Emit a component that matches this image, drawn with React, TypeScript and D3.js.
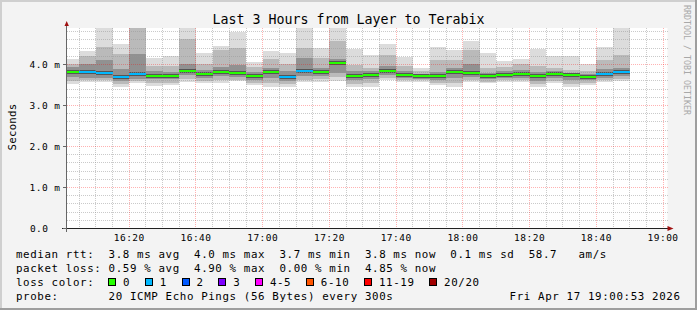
import React from 'react';
import * as d3 from 'd3';

const W = 697;
const H = 310;
const TITLE = 'Last 3 Hours from Layer to Terabix';
const WATERMARK = 'RRDTOOL / TOBI OETIKER';
const Y_LABEL = 'Seconds';

// time window (UTC used as a plain clock)
const T_START = Date.UTC(2026, 3, 17, 16, 1, 20);
const T_END = Date.UTC(2026, 3, 17, 19, 1, 20);
const FIRST_BAR = Date.UTC(2026, 3, 17, 16, 0, 0);
const STEP_MIN = 5;

// per 5-minute bar values, in ms
const median = [3.82, 3.82, 3.80, 3.70, 3.77, 3.72, 3.72, 3.85, 3.77, 3.82, 3.80, 3.72, 3.82, 3.70, 3.85, 3.82, 4.04,
  3.71, 3.74, 3.84, 3.75, 3.71, 3.71, 3.81, 3.79, 3.71, 3.74, 3.77, 3.71, 3.77, 3.74, 3.69, 3.77, 3.82];
const lossIdx = [0, 1, 1, 1, 1, 0, 0, 0, 0, 0, 0, 0, 0, 1, 1, 0, 0,
  0, 0, 0, 0, 0, 0, 0, 0, 0, 0, 0, 0, 0, 0, 0, 1, 1];
const hi = [4.13, 4.33, 5.0, 4.49, 5.0, 4.17, 4.21, 5.0, 4.27, 4.45, 4.80, 4.07, 4.33, 4.29, 5.0, 4.41, 5.0,
  4.38, 4.22, 4.49, 4.19, 3.92, 4.43, 4.35, 4.58, 4.28, 4.08, 4.13, 4.37, 4.20, 4.20, 4.01, 4.43, 5.0];
const hiMid = [4.01, 4.21, 4.43, 4.26, 5.0, 3.97, 3.96, 4.62, 4.00, 4.35, 4.40, 3.95, 4.13, 4.01, 4.41, 4.17, 4.57,
  3.98, 3.92, 4.23, 3.97, 3.84, 4.10, 4.11, 4.35, 3.91, 3.94, 4.02, 3.96, 3.92, 3.87, 3.84, 4.11, 4.23];
const coreHi = [3.93, 4.01, 4.11, 3.90, 4.26, 3.85, 3.82, 4.01, 3.86, 3.95, 3.98, 3.82, 3.92, 3.84, 4.17, 3.92, 4.13,
  3.84, 3.83, 3.97, 3.85, 3.78, 3.82, 3.92, 4.02, 3.80, 3.83, 3.87, 3.81, 3.84, 3.80, 3.77, 3.90, 3.92];
const coreLo = [3.69, 3.68, 3.68, 3.60, 3.65, 3.64, 3.64, 3.74, 3.68, 3.72, 3.70, 3.62, 3.66, 3.60, 3.72, 3.72, 3.80,
  3.62, 3.64, 3.74, 3.68, 3.65, 3.62, 3.66, 3.70, 3.64, 3.66, 3.66, 3.60, 3.67, 3.62, 3.62, 3.68, 3.72];
const loMid = [3.60, 3.62, 3.62, 3.52, 3.60, 3.56, 3.56, 3.64, 3.60, 3.62, 3.63, 3.56, 3.55, 3.52, 3.63, 3.64, 3.70,
  3.52, 3.54, 3.67, 3.62, 3.61, 3.55, 3.54, 3.63, 3.58, 3.61, 3.61, 3.52, 3.60, 3.52, 3.55, 3.62, 3.65];
const lo = [3.52, 3.57, 3.58, 3.46, 3.56, 3.48, 3.50, 3.57, 3.54, 3.56, 3.60, 3.51, 3.44, 3.44, 3.58, 3.58, 3.59,
  3.45, 3.46, 3.62, 3.58, 3.58, 3.50, 3.45, 3.58, 3.54, 3.58, 3.58, 3.44, 3.54, 3.45, 3.50, 3.58, 3.59];

const lossLabels = ['0', '1', '2', '3', '4-5', '6-10', '11-19', '20/20'];
const lossColors = ['#26ff00', '#00b8ff', '#0059ff', '#7e00ff', '#ff00ff', '#ff5500', '#ff0000', '#a10000'];

const rttLine = 'median rtt:  3.8 ms avg  4.0 ms max  3.7 ms min  3.8 ms now  0.1 ms sd  58.7   am/s';
const lossLine = 'packet loss: 0.59 % avg  4.90 % max  0.00 % min  4.85 % now';
const colorLine = 'loss color:';
const probeLine = 'probe:       20 ICMP Echo Pings (56 Bytes) every 300s';
const dateLine = 'Fri Apr 17 19:00:53 2026';

const Y_MAX = 4.89;

const PL = 67, PR = 667.5, PT = 28, PB = 228.5;
const MONO = '"DejaVu Sans Mono", "Liberation Mono", monospace';
const CHAR = 7.12;

export default function App() {
  const x = d3.scaleUtc().domain([T_START, T_END]).range([PL, PR]);
  const y = d3.scaleLinear().domain([0, Y_MAX]).range([PB, PT]);

  const majorX = d3.utcMinute.every(20)!.range(new Date(T_START), new Date(T_END));
  const minorX = d3.utcMinute.every(5)!.range(new Date(T_START), new Date(T_END))
    .filter(d => d.getUTCMinutes() % 20 !== 0);
  const yMinor = y.ticks(25).filter(v => v > 0 && Math.abs(v - Math.round(v)) > 1e-6);
  const yMajor = y.ticks(5).filter(v => v > 0);
  const fmtT = d3.utcFormat('%H:%M');
  const snap = (v: number) => Math.floor(v) + 0.5;

  const bars = median.map((m, i) => {
    const t0 = FIRST_BAR + i * STEP_MIN * 60000;
    const t1 = t0 + STEP_MIN * 60000;
    return { i, x0: Math.round(x(t0)), x1: Math.round(x(t1)), m };
  });

  const band = (b: { x0: number; x1: number }, v0: number, v1: number, fill: string, key: string) => {
    const ya = Math.round(y(v1));
    const yb = Math.round(y(v0));
    return <rect key={key} x={b.x0} y={ya} width={b.x1 - b.x0} height={Math.max(0, yb - ya)} fill={fill} />;
  };

  // legend swatches
  const swatches: { s: number; label: string; color: string }[] = [];
  let s = 108.3;
  lossLabels.forEach((lab, i) => {
    swatches.push({ s, label: lab, color: lossColors[i] });
    s += 14.7 + lab.length * CHAR + 14.9;
  });

  const legendStyle: React.CSSProperties = { whiteSpace: 'pre' };
  const legendFont = { fontFamily: MONO, fontSize: 10.8, letterSpacing: 0.62 };
  const axisFont = { fontFamily: MONO, fontSize: 9.5, letterSpacing: 0.48 };

  return (
    <svg width={W} height={H} viewBox={`0 0 ${W} ${H}`} style={{ position: 'absolute', left: 0, top: 0 }}>
      <defs>
        <clipPath id="plot">
          <rect x={PL} y={PT} width={PR - PL} height={PB - PT} />
        </clipPath>
      </defs>
      <rect x={0} y={0} width={W} height={H} fill="#f3f3f3" />
      <rect x={0} y={0} width={W} height={2} fill="#cfcfcf" />
      <rect x={0} y={0} width={2} height={H} fill="#cfcfcf" />
      <rect x={0} y={H - 2} width={W} height={2} fill="#9e9e9e" />
      <rect x={W - 2} y={0} width={2} height={H} fill="#9e9e9e" />

      <rect x={PL} y={PT} width={PR - PL} height={PB - PT} fill="#ffffff" />

      <g clipPath="url(#plot)" shapeRendering="crispEdges">
        {bars.map(b => (
          <g key={b.i}>
            {band(b, lo[b.i], hi[b.i], '#dcdcdc', 'a')}
            {band(b, loMid[b.i], hiMid[b.i], '#bababa', 'b')}
            {band(b, coreLo[b.i], coreHi[b.i], '#919191', 'c')}
            <rect x={b.x0} y={Math.round(y(b.m)) - 2} width={b.x1 - b.x0} height={4} fill="#555555" />
          </g>
        ))}
      </g>

      <g shapeRendering="crispEdges">
        {yMinor.map(v => (
          <line key={'ym' + v} x1={PL} x2={PR} y1={snap(y(v))} y2={snap(y(v))}
            stroke="rgba(150,150,150,0.5)" strokeDasharray="1,1" />
        ))}
        {minorX.map(d => (
          <line key={'xm' + +d} x1={snap(x(d))} x2={snap(x(d))} y1={PT} y2={PB}
            stroke="rgba(150,150,150,0.5)" strokeDasharray="1,1" />
        ))}
        {yMajor.map(v => (
          <line key={'yM' + v} x1={PL} x2={PR} y1={snap(y(v))} y2={snap(y(v))}
            stroke="rgba(255,0,0,0.3)" strokeDasharray="1,1" />
        ))}
        {majorX.map(d => (
          <line key={'xM' + +d} x1={snap(x(d))} x2={snap(x(d))} y1={PT} y2={PB}
            stroke="rgba(255,0,0,0.3)" strokeDasharray="1,1" />
        ))}
      </g>

      <g clipPath="url(#plot)" shapeRendering="crispEdges">
        {bars.map(b => (
          <rect key={'m' + b.i} x={b.x0} y={Math.round(y(b.m)) - 1} width={b.x1 - b.x0} height={2}
            fill={lossColors[lossIdx[b.i]]} />
        ))}
      </g>

      {/* axes */}
      <g shapeRendering="crispEdges">
        <line x1={PL - 5} x2={PR + 2} y1={PB} y2={PB} stroke="#222" />
        <line x1={66.5} x2={66.5} y1={PB + 3} y2={PT - 3} stroke="#666" />
        {yMajor.concat([0]).map(v => (
          <line key={'yt' + v} x1={63} x2={66} y1={snap(y(v))} y2={snap(y(v))} stroke="#666" />
        ))}
      </g>
      <path d={`M64.5,${PT - 2} L66.7,${PT - 7} L68.9,${PT - 2} Z`} fill="#a01010" />
      <path d={`M${PR},${PB - 2.5} L${PR + 6},${PB} L${PR},${PB + 2.5} Z`} fill="#a01010" />

      {/* tick labels */}
      {majorX.map(d => (
        <text key={'tl' + +d} x={x(d)} y={241} textAnchor="middle" {...axisFont} fill="#000">{fmtT(d)}</text>
      ))}
      {[0].concat(yMajor).map(v => (
        <text key={'yl' + v} x={v === 0 ? 48.5 : 60.5} y={y(v) + 3.5} textAnchor="end" {...axisFont} fill="#000">
          {v === 0 ? d3.format('.1f')(v) : d3.format('.1f')(v) + ' m'}
        </text>
      ))}

      <text x={348.5} y={24} textAnchor="middle" fontFamily={MONO} fontSize={13.3} fill="#000">{TITLE}</text>
      <text transform={`translate(15.5,127) rotate(-90)`} textAnchor="middle" fontFamily={MONO} fontSize={10.8}
        letterSpacing={0.2} fill="#000">{Y_LABEL}</text>
      <text transform={`translate(683.5,5) rotate(90)`} fontFamily={MONO} fontSize={8.3} fill="#a8a8a8">{WATERMARK}</text>

      {/* legend */}
      <text x={16} y={257.5} {...legendFont} style={legendStyle} xmlSpace="preserve">{rttLine}</text>
      <text x={16} y={271.7} {...legendFont} style={legendStyle} xmlSpace="preserve">{lossLine}</text>
      <text x={16} y={286} {...legendFont} style={legendStyle} xmlSpace="preserve">{colorLine}</text>
      {swatches.map(sw => (
        <g key={sw.label}>
          <rect x={Math.round(sw.s) + 0.5} y={278.5} width={7} height={7} fill={sw.color} stroke="#000" />
          <text x={sw.s + 14.7} y={286} {...legendFont}>{sw.label}</text>
        </g>
      ))}
      <text x={16} y={300} {...legendFont} style={legendStyle} xmlSpace="preserve">{probeLine}</text>
      <text x={680.5} y={300} textAnchor="end" {...legendFont} style={legendStyle}>{dateLine}</text>
    </svg>
  );
}
